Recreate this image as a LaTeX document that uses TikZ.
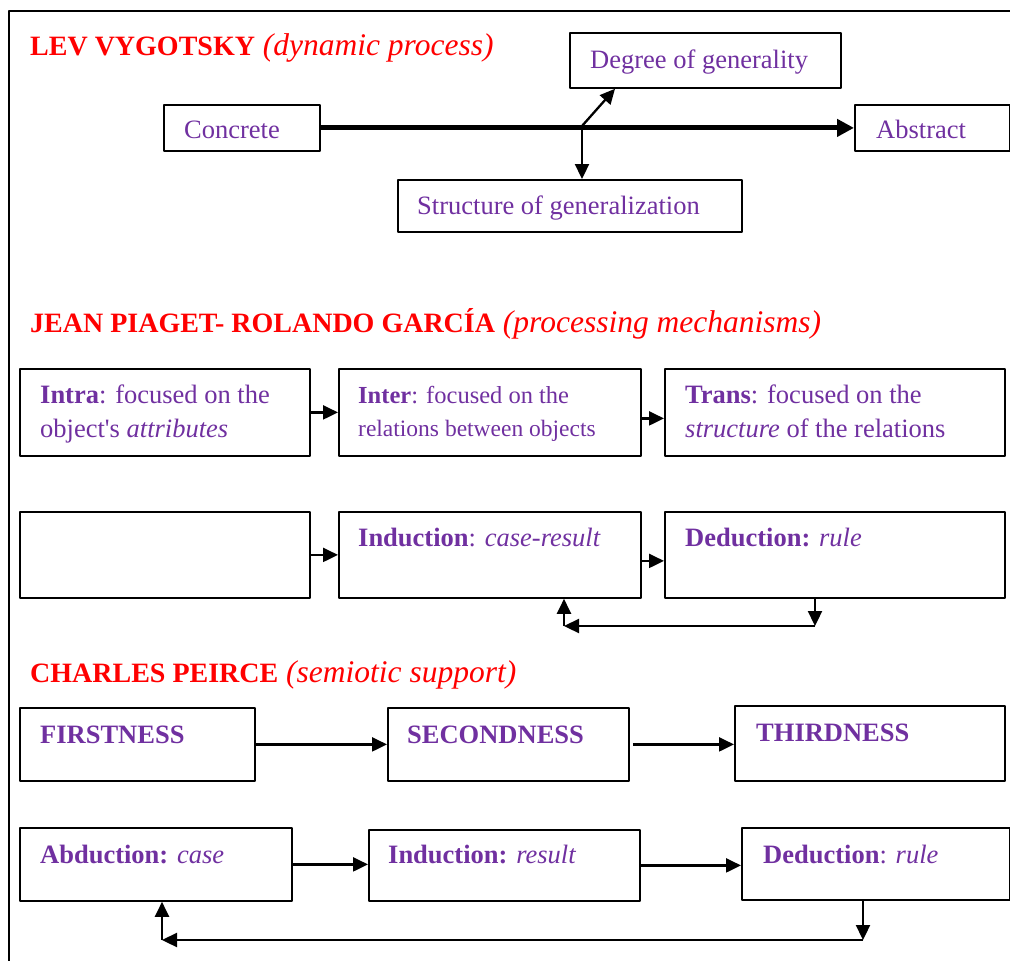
\documentclass[tikz,border=0pt]{standalone}
\usepackage{fontspec}
\setmainfont{Liberation Serif}
\usetikzlibrary{arrows.meta}
\definecolor{violeta}{RGB}{112,48,160}
\newcommand\ttlcaps[1]{{\fontsize{28}{32}\selectfont\bfseries #1}}
\begin{document}
\begin{tikzpicture}[x=1pt,y=-1pt,line join=round,
	box/.style={draw,line width=1.8pt,anchor=north west,inner sep=0pt},
	txt/.style={anchor=base west,inner sep=0pt,text=violeta,font=\fontsize{26.5}{30}\selectfont},
	ttl/.style={anchor=base west,inner sep=0pt,text=red,font=\fontsize{31.5}{36}\selectfont},
	arr/.style={line width=2.3pt,-{Triangle[length=15pt,width=14pt]}}]
		\useasboundingbox (0,0) rectangle (1010,961);
		\draw[line width=1.8pt](9,961)--(9,11)--(1010,11);
		\foreach \n/\x/\y/\w/\h in {concrete/163/104/156/46,degree/569/32/271/55,abstract/854/104/155/46,structure/397/179/344/52,
			intra/19/368/290/87,inter/338/368/302/87,trans/664/368/340/87,blank/19/511/290/86,induct/338/511/302/86,deduct/664/511/340/86,
			first/19/707/235/73,second/387/707/241/73,third/734/705/270/75,abduc/19/827/272/73,induc/368/829/271/71,deduc/741/827/268/72}
			\node[box,minimum width=\w pt,minimum height=\h pt](\n) at (\x,\y){};
		\node[ttl](tlev) at (30,55){\ttlcaps{LEV VYGOTSKY} \textit{(dynamic process)}};
		\node[ttl](tpia) at (30,332){\ttlcaps{JEAN PIAGET- ROLANDO GARCÍA} \textit{(processing mechanisms)}};
		\node[ttl](tpei) at (30,682){\ttlcaps{CHARLES PEIRCE} \textit{(semiotic support)}};
		\foreach \n/\x/\y/\t in {tconc/184/138/Concrete,tdeg/590/68/Degree of generality,tabs/876/138/Abstract,tstr/417/214/Structure of generalization,
			tintra/40/403/{\textbf{Intra}: focused on the},tintrb/40/437/{object\textquotesingle s \textit{attributes}},
			ttrana/685/403/{\textbf{Trans}: focused on the},ttranb/685/437/{\textit{structure} of the relations},
			tind/358/546/{\textbf{Induction}: \textit{case-result}},tded/685/546/{\textbf{Deduction:} \textit{rule}},
			tfir/40/743/\textbf{FIRSTNESS},tsec/407/743/\textbf{SECONDNESS},tthi/756/741/\textbf{THIRDNESS},
			tabd/40/863/{\textbf{Abduction:} \textit{case}},tinc/388/863/{\textbf{Induction:} \textit{result}},tdec/763/863/{\textbf{Deduction}: \textit{rule}}}
			\node[txt](\n) at (\x,\y){\t};
		\node[txt,font=\fontsize{24.5}{28}\selectfont](tintera) at (358,403){\textbf{Inter}: focused on the};
		\node[txt,font=\fontsize{23.5}{28}\selectfont](tinterb) at (358,436){relations between objects};
		\draw[line width=5pt,-{Triangle[length=17pt,width=17pt]}](concrete)--(abstract);
		\coordinate(fork) at (582,126);
		\draw[arr](fork)--([xshift=46pt]degree.south west);
		\draw[arr](fork)--(fork|-structure.north);
		\draw[arr](intra)--(inter);
		\draw[arr]([yshift=-6pt]inter.east)--([yshift=-6pt]trans.west);
		\draw[arr](blank)--(induct);
		\draw[arr]([yshift=-6pt]induct.east)--([yshift=-6pt]deduct.west);
		\coordinate(fb1) at (815,626);
		\coordinate(fb2) at (564,626);
		\draw[arr](deduct.south-|fb1)--(fb1);
		\draw[arr](fb1)--(fb2);
		\draw[arr](fb2)--(fb2|-induct.south);
		\draw[arr](first)--(second);
		\draw[arr]([xshift=3pt]second.east)--(second.east-|third.west);
		\draw[arr](abduc)--(abduc.east-|induc.west);
		\draw[arr](induc)--(induc.east-|deduc.west);
		\coordinate(fc1) at (863,940);
		\coordinate(fc2) at (162,940);
		\draw[arr](deduc.south-|fc1)--(fc1);
		\draw[arr](fc1)--(fc2);
		\draw[arr](fc2)--(fc2|-abduc.south);
\end{tikzpicture}
\end{document}
